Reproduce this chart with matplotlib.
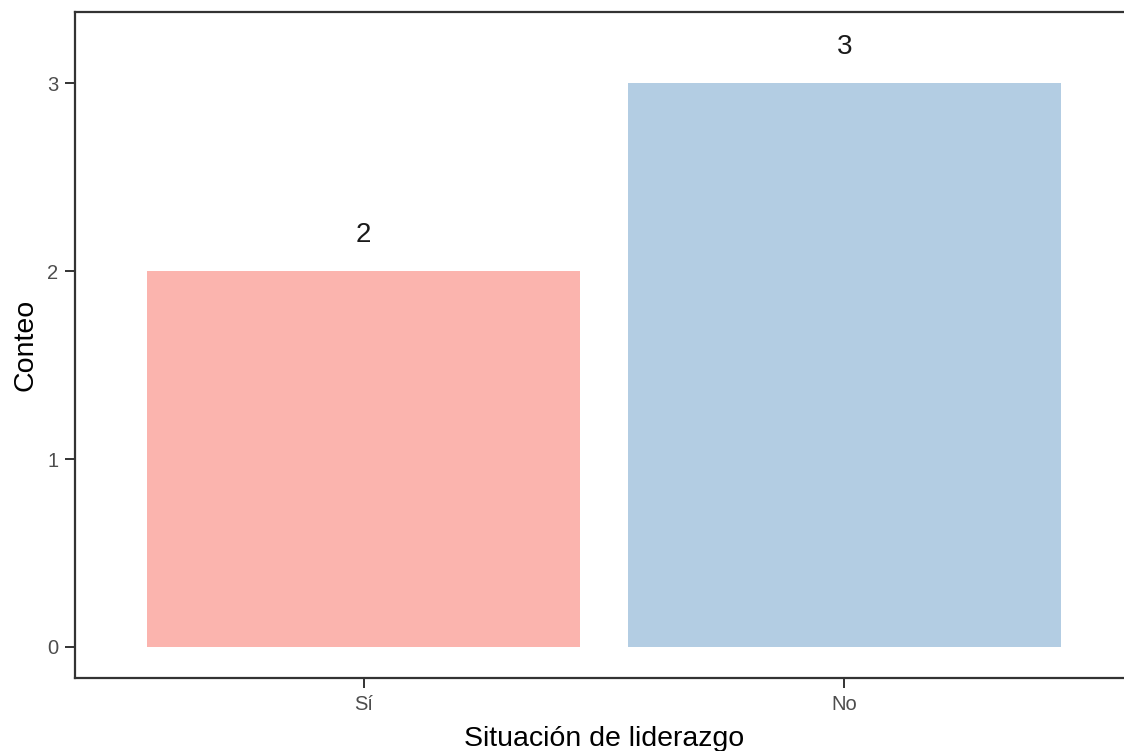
import matplotlib.pyplot as plt

categorias = ['Sí', 'No']
conteos = [2, 3]
colores = ['#FBB4AE', '#B3CDE3']

plt.rcParams['font.family'] = ['Liberation Sans', 'DejaVu Sans']

fig = plt.figure(figsize=(11.24, 7.51), dpi=100)
# el panel se sale un poco por la derecha, como en la original
ax = fig.add_axes([75 / 1124, 1 - 678 / 751, 1058 / 1124, 666 / 751])

x = range(1, len(categorias) + 1)
ax.bar(x, conteos, width=0.9, color=colores)
for xi, c in zip(x, conteos):
    ax.text(xi, c + 0.19, str(c), ha='center', va='center', fontsize=20, color='#1a1a1a')

ax.set_xlim(0.4, 2.6)
ax.set_ylim(-0.165, 3.378)
ax.set_xticks(list(x))
ax.set_xticklabels(categorias)
ax.set_yticks([0, 1, 2, 3])

for s in ax.spines.values():
    s.set_color('#333333')
    s.set_linewidth(1.6)
ax.tick_params(axis='both', colors='#333333', length=7, width=1.4, labelsize=14.5, labelcolor='#4D4D4D', pad=5)

ax.set_xlabel('Situación de liderazgo', fontsize=20.5, color='black', labelpad=9)
ax.set_ylabel('Conteo', fontsize=20.5, color='black', labelpad=6)

fig.savefig('out.png', dpi=100)
